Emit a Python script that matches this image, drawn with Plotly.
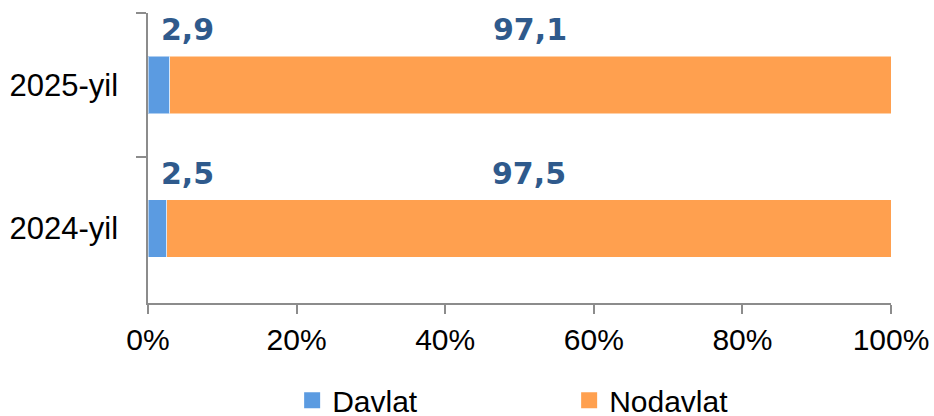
import plotly.graph_objects as go

categories = ["2025-yil", "2024-yil"]
davlat = [2.9, 2.5]
nodavlat = [97.1, 97.5]
davlat_labels = ["2,9", "2,5"]
nodavlat_labels = ["97,1", "97,5"]
x_ticks = [0, 20, 40, 60, 80, 100]

BLUE = "#5B9BE1"
ORANGE = "#FFA04F"
LABEL = "#2F5A8C"
AXIS = "#8C8C8C"

fig = go.Figure()
fig.add_trace(go.Bar(y=categories, x=davlat, name="Davlat", orientation="h",
                     marker=dict(color=BLUE, line=dict(color="rgba(255,255,255,0.5)", width=1)),
                     width=0.4, hoverinfo="skip", showlegend=False))
fig.add_trace(go.Bar(y=categories, x=nodavlat, name="Nodavlat", orientation="h",
                     marker=dict(color=ORANGE, line=dict(color="rgba(255,255,255,0.5)", width=1)),
                     width=0.4, hoverinfo="skip", showlegend=False))
# legend entries with larger square swatches
for nm, col in (("Davlat", BLUE), ("Nodavlat", ORANGE)):
    fig.add_trace(go.Scatter(x=[None], y=[None], mode="markers", name=nm,
                             marker=dict(symbol="square", size=17, color=col),
                             showlegend=True, hoverinfo="skip"))

lab_font = dict(family="DejaVu Sans", size=30, color=LABEL)
for cat, d, n, dl, nl in zip(categories, davlat, nodavlat, davlat_labels, nodavlat_labels):
    fig.add_annotation(x=0, y=cat, text="<b>%s</b>" % dl, showarrow=False,
                       xanchor="left", yanchor="middle", xshift=11, yshift=55, font=lab_font)
    fig.add_annotation(x=d + n / 2, y=cat, text="<b>%s</b>" % nl, showarrow=False,
                       xanchor="center", yanchor="middle", yshift=55, font=lab_font)

fig.update_layout(
    barmode="stack",
    width=934, height=416,
    margin=dict(l=148, r=43, t=13, b=113, autoexpand=False),
    paper_bgcolor="white", plot_bgcolor="white",
    font=dict(family="Liberation Sans, Arial", size=30, color="#000000"),
    showlegend=True,
    legend=dict(orientation="h", x=0.194, xanchor="left", y=-0.335, yanchor="middle",
                entrywidth=232, entrywidthmode="pixels", itemsizing="trace",
                font=dict(family="Liberation Sans, Arial", size=30, color="#000000"),
                traceorder="normal", bgcolor="rgba(0,0,0,0)"),
    xaxis=dict(range=[0, 100], tickvals=x_ticks, ticktext=["%d%%" % v for v in x_ticks],
               showgrid=False, zeroline=False, showline=True, linecolor=AXIS, linewidth=1.5,
               ticks="outside", ticklen=9, tickcolor=AXIS, tickwidth=1.5,
               tickfont=dict(family="Liberation Sans, Arial", size=30, color="#000000"),
               fixedrange=True),
    yaxis=dict(autorange="reversed", type="category", tickson="boundaries",
               showgrid=False, zeroline=False, showline=True, linecolor=AXIS, linewidth=1.5,
               ticks="outside", ticklen=10, tickcolor=AXIS, tickwidth=1.5,
               ticklabelstandoff=22,
               tickfont=dict(family="Liberation Sans, Arial", size=31, color="#000000"),
               fixedrange=True),
)

fig.write_html("out.html", config={"displayModeBar": False},
               post_script="document.body.style.margin='0';document.body.style.padding='0';")
